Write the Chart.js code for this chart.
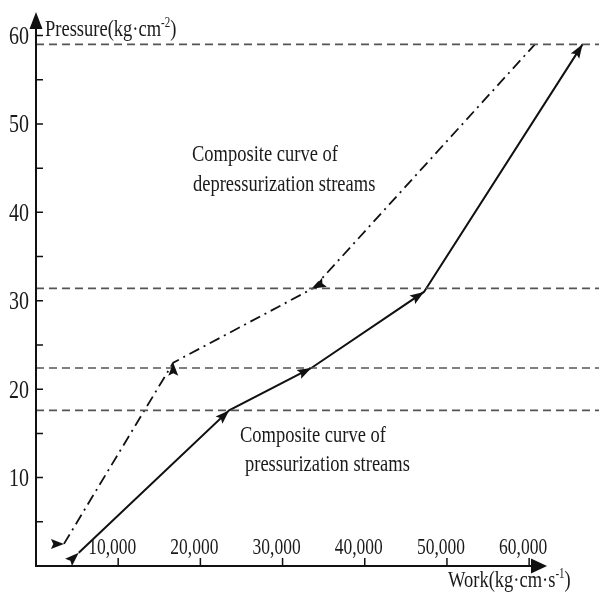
<!DOCTYPE html>
<html><head><meta charset="utf-8">
<script src="https://cdn.jsdelivr.net/npm/chart.js@4"></script>
<style>html,body{margin:0;padding:0;background:#fff}canvas{display:block}</style>
</head><body>
<canvas id="c" width="599" height="593"></canvas>
<script>
// ---- data ----
const pressWork = [5200, 23500, 33500, 47200, 66500];
const pressPressure = [1.5, 17.6, 22.4, 31.0, 59];
const depWork = [3400, 16700, 33700, 60700];
const depPressure = [2.5, 23.0, 31.4, 59];
const levelPressures = [17.6, 22.4, 31.4, 59];
const xTickValues = [10000, 20000, 30000, 40000, 50000, 60000];
const xTickLabels = ['10,000', '20,000', '30,000', '40,000', '50,000', '60,000'];
const yTickValues = [10, 20, 30, 40, 50, 60];
const yTickLabels = ['10', '20', '30', '40', '50', '60'];
const yMinorTicks = [5, 15, 25, 35, 45, 55];
const xRange = [0, 68500];
const yRange = [0, 63];
const depArrowDirs = ['east', 'north', 'reverse', null];

const F = '"Liberation Serif","Times New Roman",serif';
function txt(ctx, s, x, y, size, align, sy) {
  ctx.save();
  ctx.font = size + 'px ' + F;
  ctx.textAlign = align || 'left';
  ctx.textBaseline = 'alphabetic';
  ctx.translate(x, y);
  ctx.scale(1, sy || 1.27);
  ctx.fillText(s, 0, 0);
  const w = ctx.measureText(s).width;
  ctx.restore();
  return w;
}
function arrowHead(ctx, x, y, ang, len, wid) {
  ctx.save();
  ctx.translate(x, y);
  ctx.rotate(ang);
  ctx.beginPath();
  ctx.moveTo(0, 0);
  ctx.lineTo(-len, -wid / 2);
  ctx.lineTo(-len * 0.82, 0);
  ctx.lineTo(-len, wid / 2);
  ctx.closePath();
  ctx.fill();
  ctx.restore();
}

const zip = (xs, ys) => xs.map((x, i) => ({x: x, y: ys[i]}));

const datasets = levelPressures.map(p => ({
  data: [{x: xRange[0], y: p}, {x: xRange[1], y: p}],
  borderColor: '#555', borderWidth: 1.6, borderDash: [8, 5],
  pointRadius: 0, showLine: true, fill: false
}));
datasets.push({
  label: 'Composite curve of pressurization streams',
  data: zip(pressWork, pressPressure),
  borderColor: '#111', borderWidth: 2, pointRadius: 0, showLine: true, fill: false
});
datasets.push({
  label: 'Composite curve of depressurization streams',
  data: zip(depWork, depPressure),
  borderColor: '#111', borderWidth: 1.8, borderDash: [11, 5, 2, 5],
  pointRadius: 0, showLine: true, fill: false
});

const decor = {
  id: 'decor',
  afterDatasetsDraw(chart) {
    const ctx = chart.ctx;
    const xs = chart.scales.x, ys = chart.scales.y;
    const x0 = xs.getPixelForValue(0), y0 = ys.getPixelForValue(0);
    ctx.save();
    ctx.fillStyle = '#111';
    ctx.strokeStyle = '#111';
    // arrowheads on curves
    const nP = datasets.length - 2, nD = datasets.length - 1;
    const mp = chart.getDatasetMeta(nP).data;
    mp.forEach((pt, i) => {
      let a;
      if (i === 0) a = Math.atan2(mp[1].y - pt.y, mp[1].x - pt.x);
      else a = Math.atan2(pt.y - mp[i - 1].y, pt.x - mp[i - 1].x);
      arrowHead(ctx, pt.x, pt.y, a, 14, 10);
    });
    const md = chart.getDatasetMeta(nD).data;
    md.forEach((pt, i) => {
      const d = depArrowDirs[i];
      if (!d) return;
      let a = 0;
      if (d === 'north') a = -Math.PI / 2;
      else if (d === 'reverse') a = Math.atan2(md[i - 1].y - pt.y, md[i - 1].x - pt.x);
      arrowHead(ctx, pt.x, pt.y, a, 13, 10);
    });
    // axes
    ctx.lineWidth = 2;
    ctx.beginPath();
    ctx.moveTo(x0, y0 + 1); ctx.lineTo(x0, 24);
    ctx.moveTo(x0 - 1, y0); ctx.lineTo(534, y0);
    ctx.stroke();
    ctx.beginPath();
    ctx.moveTo(x0, 12); ctx.lineTo(x0 - 6.5, 29); ctx.lineTo(x0 + 6.5, 29); ctx.closePath(); ctx.fill();
    ctx.beginPath();
    ctx.moveTo(547, y0); ctx.lineTo(531, y0 - 7.5); ctx.lineTo(531, y0 + 7.5); ctx.closePath(); ctx.fill();
    // y ticks
    ctx.lineWidth = 1.5;
    ctx.beginPath();
    yTickValues.concat(yMinorTicks).forEach(v => {
      const py = ys.getPixelForValue(v);
      ctx.moveTo(x0, py); ctx.lineTo(x0 + 7, py);
    });
    xTickValues.forEach(v => {
      const px = xs.getPixelForValue(v);
      ctx.moveTo(px, y0); ctx.lineTo(px, y0 - 8);
    });
    ctx.stroke();
    // tick labels
    ctx.fillStyle = '#1a1a1a';
    yTickValues.forEach((v, i) => {
      const py = ys.getPixelForValue(v);
      txt(ctx, yTickLabels[i], x0 - 7, py + 8.5, 20, 'right');
    });
    xTickValues.forEach((v, i) => {
      const px = xs.getPixelForValue(v);
      txt(ctx, xTickLabels[i], px - 6, y0 - 12, 17.5, 'center');
    });
    // axis titles
    let w = txt(ctx, 'Pressure(kg\u00b7cm', 45, 36, 18.5, 'left');
    let w2 = txt(ctx, '-2', 45 + w, 27, 11, 'left');
    txt(ctx, ')', 45 + w + w2, 36, 18.5, 'left');
    w = txt(ctx, 'Work(kg\u00b7cm\u00b7s', 448, 587, 18.5, 'left');
    w2 = txt(ctx, '-1', 448 + w, 578, 11, 'left');
    txt(ctx, ')', 448 + w + w2, 587, 18.5, 'left');
    // curve annotations
    txt(ctx, 'Composite curve of', 192, 161, 18.5, 'left');
    txt(ctx, 'depressurization streams', 193, 191, 18.5, 'left');
    txt(ctx, 'Composite curve of', 240, 442, 18.5, 'left');
    txt(ctx, 'pressurization streams', 245, 471, 18.5, 'left');
    ctx.restore();
  }
};

new Chart(document.getElementById('c'), {
  type: 'scatter',
  data: {datasets: datasets},
  options: {
    responsive: false,
    animation: false,
    devicePixelRatio: 1,
    layout: {padding: {left: 36, right: 0, top: 9, bottom: 27}},
    plugins: {legend: {display: false}, tooltip: {enabled: false}},
    scales: {
      x: {type: 'linear', min: xRange[0], max: xRange[1], display: false},
      y: {type: 'linear', min: yRange[0], max: yRange[1], display: false}
    },
    elements: {line: {tension: 0}}
  },
  plugins: [decor]
});
</script>
</body></html>
